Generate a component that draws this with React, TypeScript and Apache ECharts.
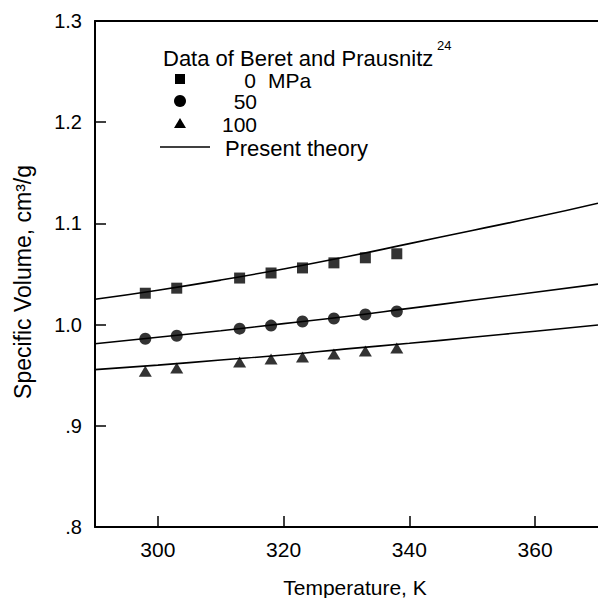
import React, { useEffect, useRef } from "react";
import * as echarts from "echarts";

const temps = [298, 303, 313, 318, 323, 328, 333, 338];
const v0 = [1.031, 1.036, 1.046, 1.051, 1.056, 1.061, 1.066, 1.070];
const v50 = [0.986, 0.989, 0.996, 0.999, 1.003, 1.006, 1.010, 1.013];
const v100 = [0.954, 0.957, 0.963, 0.966, 0.968, 0.971, 0.974, 0.977];

const theoryT = [290, 300, 310, 320, 330, 340, 350, 360, 370];
const th0 = [1.025, 1.034, 1.044, 1.055, 1.067, 1.080, 1.093, 1.106, 1.120];
const th50 = [0.981, 0.9875, 0.994, 1.001, 1.008, 1.016, 1.024, 1.032, 1.040];
const th100 = [0.9555, 0.960, 0.965, 0.970, 0.976, 0.9815, 0.9875, 0.9935, 0.9996];

const xTicks = [300, 320, 340, 360];
const legendTitle = "Data of Beret and Prausnitz";
const legendRef = "24";
const pressures = ["0", "50", "100"];
const unit = "MPa";
const theoryLabel = "Present theory";
const xTitle = "Temperature, K";
const yTitle = "Specific Volume, cm\u00B3/g";

const FONT = "'Liberation Sans', Arial, Helvetica, sans-serif";

export default function App() {
  const ref = useRef<HTMLDivElement>(null);
  useEffect(() => {
    if (!ref.current) return;
    const chart = echarts.init(ref.current, undefined, { renderer: "svg" });
    const zip = (xs: number[], ys: number[]) => xs.map((x, i) => [x, ys[i]]);
    const txt = (text: string, x: number, y: number, align: string, size = 21) => ({
      type: "text",
      x,
      y,
      style: {
        text,
        fill: "#000",
        font: `${size}px ${FONT}`,
        lineHeight: Math.round(size * 0.85),
        textAlign: align,
        textVerticalAlign: "middle",
      },
    });
    const option: any = {
      animation: false,
      backgroundColor: "#fff",
      grid: { left: 95, right: 0, top: 21, bottom: 71, containLabel: false },
      xAxis: [
        {
          type: "value",
          min: 290,
          max: 370,
          axisLine: { show: true, onZero: false, lineStyle: { color: "#000", width: 2 } },
          axisTick: { show: true, inside: true, length: 11, customValues: xTicks, lineStyle: { color: "#000", width: 1.5 } },
          axisLabel: { customValues: xTicks, color: "#000", fontSize: 21, fontFamily: FONT, margin: 12 },
          splitLine: { show: false },
        },
        {
          type: "value",
          position: "top",
          min: 290,
          max: 370,
          axisLine: { show: true, onZero: false, lineStyle: { color: "#000", width: 2 } },
          axisTick: { show: false },
          axisLabel: { show: false },
          splitLine: { show: false },
        },
      ],
      yAxis: {
        type: "value",
        min: 0.8,
        max: 1.3,
        interval: 0.1,
        axisLine: { show: true, onZero: false, lineStyle: { color: "#000", width: 2 } },
        axisTick: { show: true, inside: true, length: 11, lineStyle: { color: "#000", width: 1.5 } },
        axisLabel: {
          color: "#000",
          fontSize: 20,
          fontFamily: FONT,
          margin: 13,
          formatter: (v: number) => {
            const s = v.toFixed(1);
            return s.startsWith("0") ? s.slice(1) : s;
          },
        },
        splitLine: { show: false },
      },
      series: [
        { type: "line", data: zip(theoryT, th0), smooth: true, showSymbol: false, lineStyle: { color: "#000", width: 1.6 }, z: 2 },
        { type: "line", data: zip(theoryT, th50), smooth: true, showSymbol: false, lineStyle: { color: "#000", width: 1.6 }, z: 2 },
        { type: "line", data: zip(theoryT, th100), smooth: true, showSymbol: false, lineStyle: { color: "#000", width: 1.6 }, z: 2 },
        { type: "scatter", data: zip(temps, v0), symbol: "rect", symbolSize: 11, itemStyle: { color: "#000" }, z: 3 },
        { type: "scatter", data: zip(temps, v50), symbol: "circle", symbolSize: 12, itemStyle: { color: "#000" }, z: 3 },
        { type: "scatter", data: zip(temps, v100), symbol: "triangle", symbolSize: [13, 11], itemStyle: { color: "#000" }, z: 3 },
      ],
      graphic: [
        txt(legendTitle, 163, 58, "left", 22),
        txt(legendRef, 437, 45, "left", 13),
        { type: "rect", shape: { x: 175, y: 74, width: 10, height: 10 }, style: { fill: "#000" } },
        txt(pressures[0], 256, 80, "right"),
        txt(unit, 268, 80, "left"),
        { type: "circle", shape: { cx: 180, cy: 101, r: 6 }, style: { fill: "#000" } },
        txt(pressures[1], 257, 101, "right"),
        { type: "polygon", shape: { points: [[180, 118], [186, 128], [174, 128]] }, style: { fill: "#000" } },
        txt(pressures[2], 257, 124, "right"),
        { type: "line", shape: { x1: 160, y1: 147, x2: 210, y2: 147 }, style: { stroke: "#000", lineWidth: 1.3 } },
        txt(theoryLabel, 225, 148, "left", 22),
        txt(xTitle, 355, 587, "center", 21),
        {
          type: "text",
          x: 23,
          y: 282,
          rotation: Math.PI / 2,
          style: {
            text: yTitle,
            fill: "#000",
            font: `23px ${FONT}`,
            textAlign: "center",
            textVerticalAlign: "middle",
          },
        },
      ],
    };
    chart.setOption(option);
    return () => chart.dispose();
  }, []);
  return (
    <div
      ref={ref}
      style={{ position: "absolute", left: 0, top: 0, width: 598, height: 598, background: "#fff" }}
    />
  );
}
